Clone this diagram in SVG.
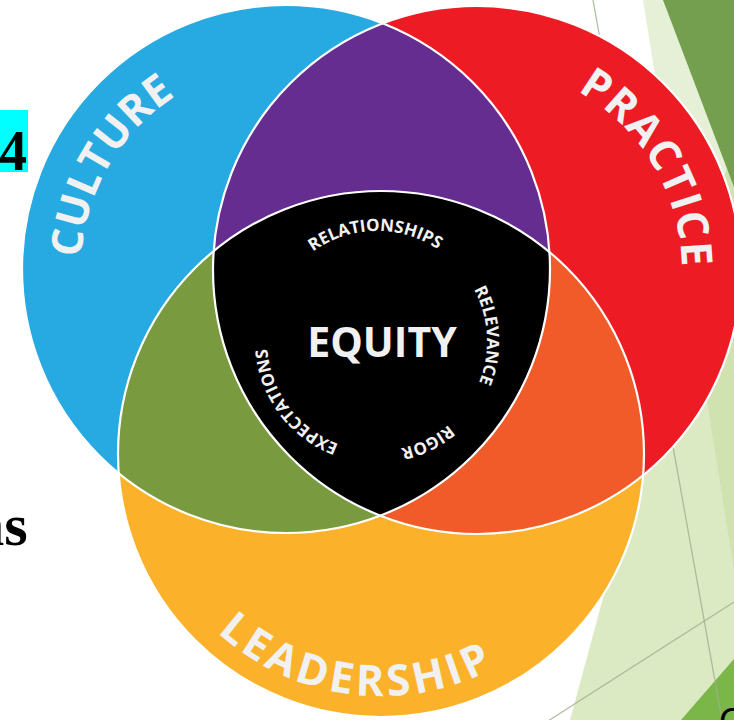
<svg xmlns="http://www.w3.org/2000/svg" width="734" height="720" viewBox="0 0 734 720">
<style>
.big{font-family:"Open Sans","DejaVu Sans",sans-serif;font-weight:700;fill:#F1F1F2;font-size:43px}
.small{font-family:"Open Sans","DejaVu Sans",sans-serif;font-weight:700;fill:#F1F1F2;font-size:17px}
.edge{fill:none;stroke:#FFFFFF;stroke-width:2.2}
.bgline{stroke:#9FAF90;stroke-width:1.3;fill:none;opacity:0.8}
.slide{font-family:"Liberation Serif","Times New Roman",serif;font-weight:700;fill:#000000}
</style>
<defs>
<clipPath id="clipBlue"><circle cx="286" cy="269" r="264"/></clipPath>
<clipPath id="clipRed"><circle cx="477" cy="270" r="264"/></clipPath>
<path id="arcCulture" d="M 107.9 370.6 A 205 205 0 0 1 287.1 64.0"/>
<path id="arcPractice" d="M 479 65 A 205 205 0 0 1 657.5 367"/>
<path id="arcLeadership" d="M 153.6 536.8 A 242 242 0 0 0 581.6 589.3"/>
<path id="arcRel" d="M 280.8 287.7 A 110 110 0 0 1 471.3 284.3"/>
<path id="arcRelev" d="M 426.9 243 A 110 110 0 0 1 436.9 433.3"/>
<path id="arcRigor" d="M 486.8 347.7 A 110 110 0 0 1 316.3 432.7"/>
<path id="arcExp" d="M 390 450.2 A 110 110 0 0 1 275.9 297.7"/>
</defs>

<g id="background">
<rect x="0" y="0" width="734" height="720" fill="#FFFFFF"/>
<polygon points="570,720 700,240 734,150 734,720" fill="#DCEAC3"/>
<polygon points="643,0 734,0 734,570" fill="#B6D38A" opacity="0.35"/>
<polygon points="663,0 734,0 734,187" fill="#739F4F"/>
<polygon points="681,720 734,659 734,720" fill="#7AB648"/>
<line class="bgline" x1="593" y1="0" x2="722" y2="720"/>
<line class="bgline" x1="548" y1="721" x2="734" y2="602"/>
<rect x="0" y="110" width="28" height="62" fill="#00FFFF"/>
<text class="slide" x="27" y="170" text-anchor="end" font-size="56">4</text>
<text class="slide" x="27.5" y="545" text-anchor="end" font-size="60">as</text>
<text x="719" y="734" font-family="Liberation Sans, Arial, sans-serif" font-size="36" fill="#000000">C</text>
</g>

<g id="culture">
<circle cx="286" cy="269" r="264" fill="#27AAE1"/>
</g>
<g id="practice">
<circle cx="477" cy="270" r="264" fill="#ED1C24"/>
</g>
<g id="leadership">
<circle cx="381" cy="454" r="263" fill="#FBB22A"/>
</g>
<g id="culture-practice">
<circle cx="477" cy="270" r="264" fill="#662D91" clip-path="url(#clipBlue)"/>
</g>
<g id="culture-leadership">
<circle cx="381" cy="454" r="263" fill="#7A9A40" clip-path="url(#clipBlue)"/>
</g>
<g id="practice-leadership">
<circle cx="381" cy="454" r="263" fill="#F15A29" clip-path="url(#clipRed)"/>
</g>
<g id="equity">
<g clip-path="url(#clipBlue)">
<circle cx="381" cy="454" r="263" fill="#000000" clip-path="url(#clipRed)"/>
</g>
</g>

<g id="outlines">
<circle class="edge" cx="286" cy="269" r="264"/>
<circle class="edge" cx="477" cy="270" r="264"/>
<circle class="edge" cx="381" cy="454" r="263"/>
</g>

<g id="labels">
<text class="big"><textPath href="#arcCulture" startOffset="50%" text-anchor="middle">CULTURE</textPath></text>
<text class="big" letter-spacing="1.5"><textPath href="#arcPractice" startOffset="50%" text-anchor="middle">PRACTICE</textPath></text>
<text class="big" letter-spacing="4"><textPath href="#arcLeadership" startOffset="50%" text-anchor="middle">LEADERSHIP</textPath></text>
<text class="small"><textPath href="#arcRel" startOffset="50%" text-anchor="middle">RELATIONSHIPS</textPath></text>
<text class="small"><textPath href="#arcRelev" startOffset="50%" text-anchor="middle">RELEVANCE</textPath></text>
<text class="small"><textPath href="#arcRigor" startOffset="50%" text-anchor="middle">RIGOR</textPath></text>
<text class="small"><textPath href="#arcExp" startOffset="50%" text-anchor="middle">EXPECTATIONS</textPath></text>
<text x="382" y="357" text-anchor="middle" font-family="Open Sans, DejaVu Sans, sans-serif" font-weight="700" font-size="41" fill="#F1F1F2">EQUITY</text>
</g>
</svg>
